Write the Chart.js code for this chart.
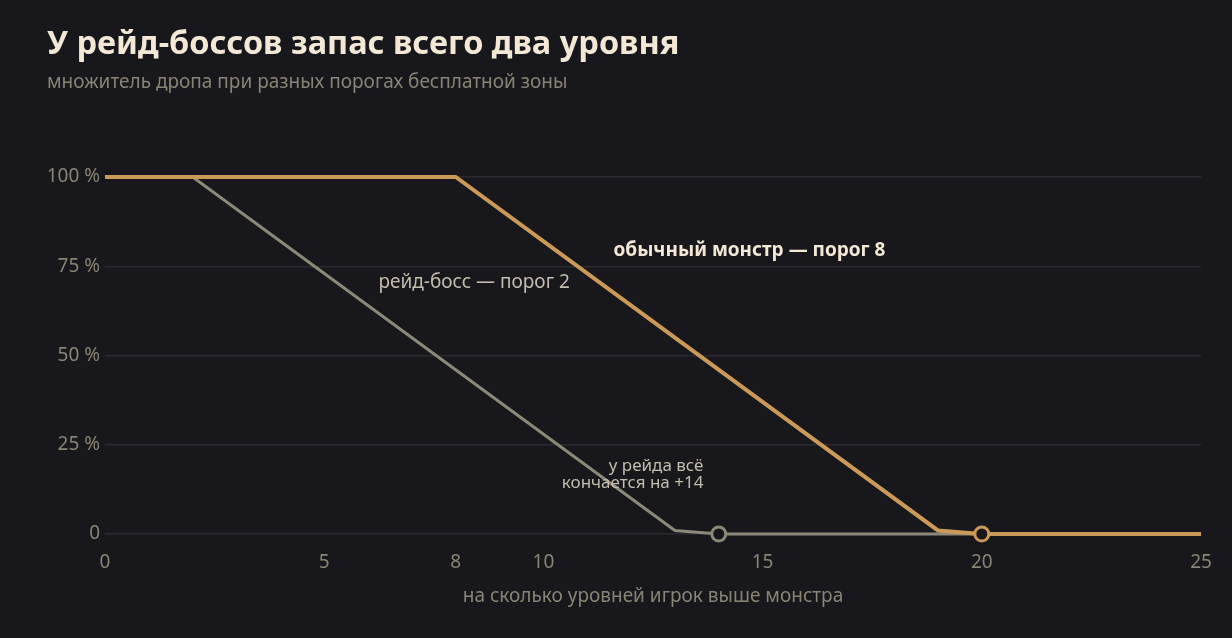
<!DOCTYPE html>
<html>
<head>
    <title>У рейд-боссов запас всего два уровня</title>
    <script src="https://cdn.jsdelivr.net/npm/chart.js"></script>
    <style>
        body {
            background-color: #17171c;
            margin: 0;
            width: 1232px;
            height: 638px;
            overflow: hidden;
            font-family: "Noto Sans", sans-serif;
            position: relative;
        }

        #head {
            position: absolute;
            left: 47px;
            top: 22px;
        }

        #head h1 {
            margin: 0;
            font-size: 32.5px;
            font-weight: bold;
            color: #f2e8d5;
            line-height: 40px;
        }

        #head p {
            margin: 7px 0 0 0;
            font-size: 19px;
            color: #8a8474;
            line-height: 24px;
        }

        #chartBox {
            position: absolute;
            left: 0;
            top: 0;
            width: 1232px;
            height: 638px;
        }
    </style>
</head>
<body>
    <div id="chartBox">
        <canvas id="dropChart"></canvas>
    </div>
    <div id="head">
        <h1>У рейд-боссов запас всего два уровня</h1>
        <p>множитель дропа при разных порогах бесплатной зоны</p>
    </div>

    <script>
        // levels above the monster and drop multiplier, %
        const normalLevels = [0, 8, 19, 20, 25];
        const normalDrop = [100, 100, 1, 0, 0];
        const raidLevels = [0, 2, 13, 14, 25];
        const raidDrop = [100, 100, 1, 0, 0];

        const xTicks = [0, 5, 8, 10, 15, 20, 25];
        const yTicks = [0, 25, 50, 75, 100];

        const gold = '#cb9a58';
        const grey = '#8d8978';
        const bg = '#17171c';
        const tickColor = '#8a8474';

        const labels = [
            { x: 14.7, y: 79.5, lines: ['обычный монстр — порог 8'], align: 'center', color: '#f2e8d5', weight: 'bold', size: 19 },
            { x: 8.42, y: 70.4, lines: ['рейд-босс — порог 2'], align: 'center', color: '#c4bcac', weight: 'normal', size: 19 },
            { x: 13.65, y: 19.1, lines: ['у рейда всё', 'кончается на +14'], align: 'right', color: '#c4bcac', weight: 'normal', size: 17 }
        ];

        const textPlugin = {
            id: 'notes',
            afterDatasetsDraw(chart) {
                const c = chart.ctx;
                const xs = chart.scales.x;
                const ys = chart.scales.y;
                c.save();
                labels.forEach(l => {
                    c.font = l.weight + ' ' + l.size + 'px "Noto Sans"';
                    c.fillStyle = l.color;
                    c.textAlign = l.align;
                    c.textBaseline = 'middle';
                    const px = xs.getPixelForValue(l.x);
                    let py = ys.getPixelForValue(l.y);
                    l.lines.forEach(t => {
                        c.fillText(t, px, py);
                        py += 17.5;
                    });
                });
                c.restore();
            }
        };

        const toPoints = (xs, ys) => xs.map((x, i) => ({ x: x, y: ys[i] }));

        const ctx = document.getElementById('dropChart').getContext('2d');
        new Chart(ctx, {
            type: 'line',
            data: {
                datasets: [
                    {
                        label: 'обычный монстр',
                        data: toPoints(normalLevels, normalDrop),
                        borderColor: gold,
                        borderWidth: 4,
                        borderJoinStyle: 'miter',
                        pointRadius: normalLevels.map(v => v === 20 ? 7 : 0),
                        pointBorderWidth: 3,
                        pointBorderColor: gold,
                        pointBackgroundColor: bg,
                        clip: 10,
                        tension: 0
                    },
                    {
                        label: 'рейд-босс',
                        data: toPoints(raidLevels, raidDrop),
                        borderColor: grey,
                        borderWidth: 3,
                        borderJoinStyle: 'miter',
                        pointRadius: raidLevels.map(v => v === 14 ? 7 : 0),
                        pointBorderWidth: 3,
                        pointBorderColor: grey,
                        pointBackgroundColor: bg,
                        clip: 10,
                        tension: 0
                    }
                ]
            },
            options: {
                responsive: true,
                maintainAspectRatio: false,
                animation: false,
                layout: {
                    padding: { top: 177, right: 31, bottom: 0, left: 0 }
                },
                scales: {
                    x: {
                        type: 'linear',
                        min: 0,
                        max: 25,
                        afterBuildTicks: axis => {
                            axis.ticks = xTicks.map(v => ({ value: v }));
                        },
                        afterFit: axis => {
                            axis.height = 104;
                        },
                        grid: { display: false, drawTicks: false },
                        border: { display: false },
                        ticks: {
                            color: tickColor,
                            font: { family: 'Noto Sans', size: 19 },
                            padding: 17,
                            maxRotation: 0,
                            autoSkip: false
                        },
                        title: {
                            display: true,
                            text: 'на сколько уровней игрок выше монстра',
                            color: tickColor,
                            font: { family: 'Noto Sans', size: 19 },
                            padding: { top: 0, bottom: 30 }
                        }
                    },
                    y: {
                        min: 0,
                        max: 100,
                        afterBuildTicks: axis => {
                            axis.ticks = yTicks.map(v => ({ value: v }));
                        },
                        afterFit: axis => {
                            axis.width = 105;
                        },
                        grid: { color: '#2a2a30', lineWidth: 1.5, drawTicks: false },
                        border: { display: false },
                        ticks: {
                            color: tickColor,
                            font: { family: 'Noto Sans', size: 19 },
                            padding: 5,
                            callback: v => v === 0 ? '0' : v + ' %'
                        }
                    }
                },
                plugins: {
                    legend: { display: false },
                    tooltip: { enabled: false }
                }
            },
            plugins: [textPlugin]
        });
    </script>
</body>
</html>
